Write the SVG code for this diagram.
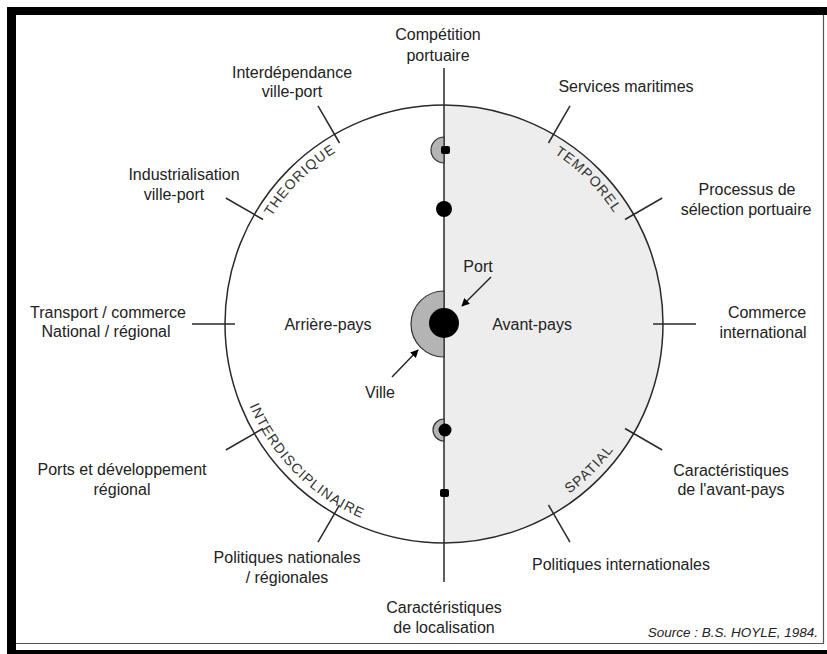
<svg xmlns="http://www.w3.org/2000/svg" width="827" height="654" viewBox="0 0 827 654">
<style>
.lbl{font-family:"Liberation Sans",Arial,sans-serif;font-size:16px;fill:#222;text-anchor:middle}
.arc{font-family:"Liberation Sans",Arial,sans-serif;font-size:14px;fill:#333;letter-spacing:1.1px}
.ln{stroke:#2a2a2a;stroke-width:1.5;fill:none}
.gr{fill:#b4b4b4;stroke:#333;stroke-width:1.2}
.dot{fill:#000}
</style>
<defs>
<marker id="ah" viewBox="0 0 10 10" refX="9" refY="5" markerWidth="8" markerHeight="8" markerUnits="userSpaceOnUse" orient="auto">
<path d="M0,0 L10,5 L0,10 Z" fill="#000"/>
</marker>
<path id="pTheo" d="M253.2,254.6 A203,203 0 0 1 374.6,133.2"/>
<path id="pTemp" d="M513.4,133.2 A203,203 0 0 1 634.8,254.6"/>
<path id="pInter" d="M240.2,378.6 A211,211 0 0 0 389.4,527.8"/>
<path id="pSpat" d="M498.6,527.8 A211,211 0 0 0 647.8,378.6"/>
</defs>
<rect width="827" height="654" fill="#fff"/>
<g id="frame">
<rect x="7" y="7" width="820" height="8" fill="#000"/>
<rect x="7" y="7" width="9" height="647" fill="#000"/>
<rect x="7" y="650" width="820" height="4" fill="#000"/>
<path d="M16,643.5 H823.5 V15" stroke="#555" stroke-width="1.2" fill="none"/>
</g>
<g id="disc">
<path d="M444,105 A219,219 0 0 1 444,543 Z" fill="#ededed"/>
<circle cx="444" cy="324" r="219" class="ln"/>
</g>
<g id="connectors">
<line class="ln" x1="444" y1="68" x2="444" y2="582"/>
<line class="ln" x1="548.5" y1="143" x2="570" y2="105.8"/>
<line class="ln" x1="625" y1="219.5" x2="662.2" y2="198"/>
<line class="ln" x1="653" y1="324" x2="696" y2="324"/>
<line class="ln" x1="625" y1="428.5" x2="662.2" y2="450"/>
<line class="ln" x1="548.5" y1="505" x2="570" y2="542.2"/>
<line class="ln" x1="339.5" y1="505" x2="318" y2="542.2"/>
<line class="ln" x1="263" y1="428.5" x2="225.8" y2="450"/>
<line class="ln" x1="235" y1="324" x2="192" y2="324"/>
<line class="ln" x1="263" y1="219.5" x2="225.8" y2="198"/>
<line class="ln" x1="339.5" y1="143" x2="318" y2="105.8"/>
<line x1="491" y1="277" x2="462" y2="306" stroke="#222" stroke-width="1.4" marker-end="url(#ah)"/>
<line x1="392" y1="377" x2="418" y2="350" stroke="#222" stroke-width="1.4" marker-end="url(#ah)"/>
</g>
<g id="n1"><path class="gr" d="M444,137 A13,13 0 0 0 444,163 Z"/><rect class="dot" x="441" y="146" width="9" height="8" rx="2"/></g>
<g id="n2"><circle class="dot" cx="444" cy="209" r="8"/></g>
<g id="port"><path class="gr" d="M444,291 A33,33 0 0 0 444,357 Z"/><circle class="dot" cx="444" cy="323" r="15"/></g>
<g id="n4"><path class="gr" d="M444,419 A11,11 0 0 0 444,441 Z"/><circle class="dot" cx="445" cy="430" r="6.5"/></g>
<g id="n5"><rect class="dot" x="440" y="489" width="9" height="8" rx="2"/></g>
<g id="arcs">
<text class="arc"><textPath href="#pTheo" startOffset="50%" text-anchor="middle">THEORIQUE</textPath></text>
<text class="arc"><textPath href="#pTemp" startOffset="50%" text-anchor="middle">TEMPOREL</textPath></text>
<text class="arc"><textPath href="#pInter" startOffset="50%" text-anchor="middle">INTERDISCIPLINAIRE</textPath></text>
<text class="arc"><textPath href="#pSpat" startOffset="50%" text-anchor="middle">SPATIAL</textPath></text>
</g>
<g id="labels">
<g id="l-comp"><text class="lbl" x="438" y="40">Compétition</text><text class="lbl" x="438" y="61">portuaire</text></g>
<g id="l-inter"><text class="lbl" x="292" y="78">Interdépendance</text><text class="lbl" x="292" y="97">ville-port</text></g>
<g id="l-serv"><text class="lbl" x="626" y="92">Services maritimes</text></g>
<g id="l-indu"><text class="lbl" x="184" y="180">Industrialisation</text><text class="lbl" x="174" y="200">ville-port</text></g>
<g id="l-proc"><text class="lbl" x="747" y="195">Processus de</text><text class="lbl" x="746" y="215">sélection portuaire</text></g>
<g id="l-trans"><text class="lbl" x="108" y="318">Transport / commerce</text><text class="lbl" x="106" y="337">National / régional</text></g>
<g id="l-comm"><text class="lbl" x="767" y="318">Commerce</text><text class="lbl" x="763" y="338">international</text></g>
<g id="l-arr"><text class="lbl" x="328" y="330">Arrière-pays</text></g>
<g id="l-av"><text class="lbl" x="532" y="330">Avant-pays</text></g>
<g id="l-port"><text class="lbl" x="478" y="272">Port</text></g>
<g id="l-ville"><text class="lbl" x="380" y="398">Ville</text></g>
<g id="l-ports"><text class="lbl" x="122" y="475">Ports et développement</text><text class="lbl" x="122" y="495">régional</text></g>
<g id="l-carav"><text class="lbl" x="731" y="476">Caractéristiques</text><text class="lbl" x="731" y="495">de l'avant-pays</text></g>
<g id="l-polnat"><text class="lbl" x="287" y="563">Politiques nationales</text><text class="lbl" x="287" y="583">/ régionales</text></g>
<g id="l-polint"><text class="lbl" x="621" y="570">Politiques internationales</text></g>
<g id="l-carloc"><text class="lbl" x="444" y="613">Caractéristiques</text><text class="lbl" x="444" y="633">de localisation</text></g>
<text x="818" y="637" font-family="'Liberation Sans',Arial,sans-serif" font-size="13.5" font-style="italic" fill="#222" text-anchor="end">Source : B.S. HOYLE, 1984.</text>
</g>
</svg>
